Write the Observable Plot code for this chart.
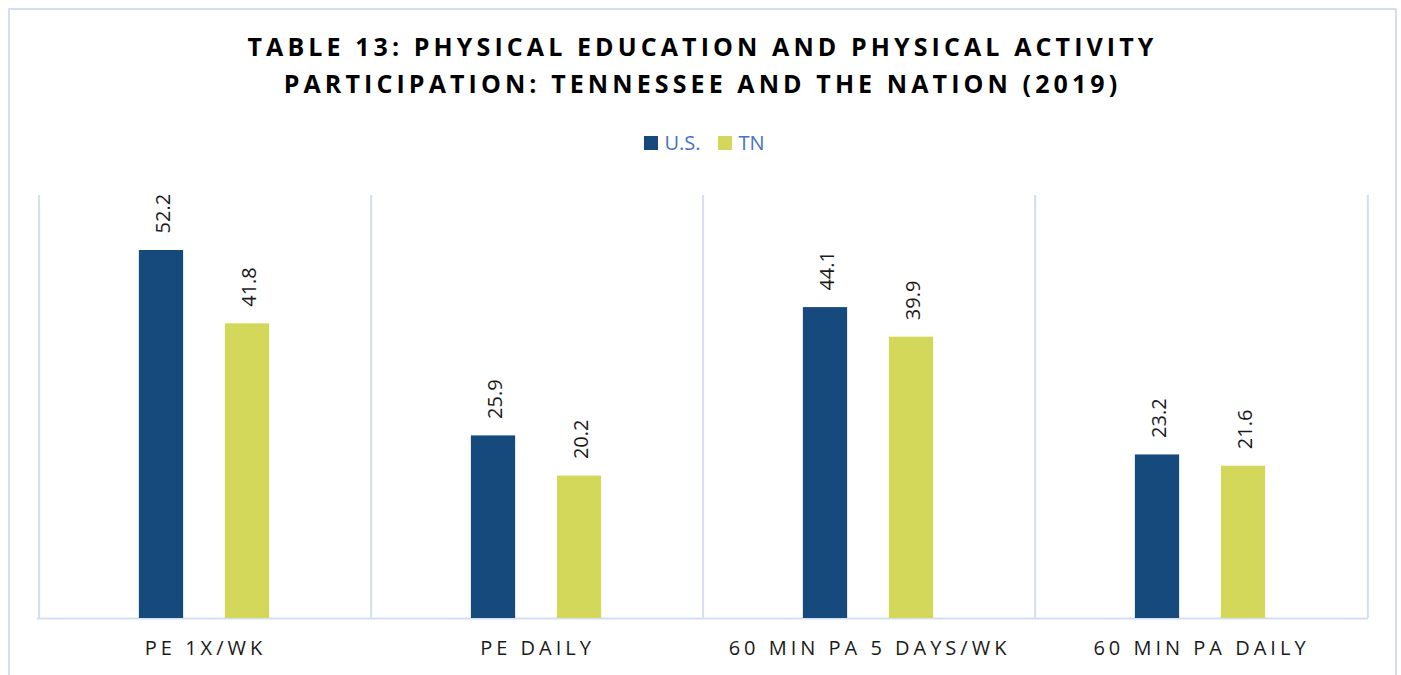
<!DOCTYPE html>
<html>
<head>
<meta charset="utf-8">
<script src="https://cdn.jsdelivr.net/npm/d3@7"></script>
<script src="https://cdn.jsdelivr.net/npm/@observablehq/plot@0.6"></script>
<style>
  html, body { margin: 0; padding: 0; background: #fff; }
  #wrap { position: relative; width: 1401px; height: 675px; overflow: hidden; font-family: "Open Sans", sans-serif; }
  #frame { position: absolute; left: 8px; top: 8px; width: 1385px; height: 720px; border: 2px solid #d3deef; box-sizing: content-box; }
  #title { position: absolute; left: 8px; width: 1389px; top: 28px; text-align: center; font-weight: 700; font-size: 25px; line-height: 37px; letter-spacing: 4.1px; color: #000; }
  #legend { position: absolute; left: 10px; width: 1389px; top: 133px; display: flex; justify-content: center; font-size: 20px; line-height: 20px; color: #4472c4; }
  #legend span.item { display: inline-flex; align-items: baseline; margin: 0 9px; }
  #legend span.sw { display: inline-block; width: 14px; height: 14px; margin-right: 6px; }
  #chart { position: absolute; left: 0; top: 180px; }
  #chart g[aria-label="x-axis tick label"] text, #chart g[aria-label="x-axis"] text { letter-spacing: 4px; }
</style>
</head>
<body>
<div id="wrap">
  <div id="frame"></div>
  <div id="title">TABLE 13: PHYSICAL EDUCATION AND PHYSICAL ACTIVITY<br>PARTICIPATION: TENNESSEE AND THE NATION (2019)</div>
  <div id="legend"></div>
  <div id="chart"></div>
</div>
<script>
const categories = ["PE 1X/WK", "PE DAILY", "60 MIN PA 5 DAYS/WK", "60 MIN PA DAILY"];
const seriesNames = ["U.S.", "TN"];
const usValues = [52.2, 25.9, 44.1, 23.2];
const tnValues = [41.8, 20.2, 39.9, 21.6];
const colors = ["#174a7c", "#d3d85a"];

const us = categories.map((c, i) => ({category: c, value: usValues[i]}));
const tn = categories.map((c, i) => ({category: c, value: tnValues[i]}));

// legend
const legend = document.getElementById("legend");
seriesNames.forEach((s, i) => {
  const item = document.createElement("span");
  item.className = "item";
  const sw = document.createElement("span");
  sw.className = "sw";
  sw.style.background = colors[i];
  item.appendChild(sw);
  item.appendChild(document.createTextNode(s));
  legend.appendChild(item);
});

const W = 1401, H = 495, mL = 37, mR = 33, mT = 15, mB = 57;
const bw = (W - mL - mR) / categories.length;
const barW = 45, off = 43;
const gridColor = "#d3deef";

const chart = Plot.plot({
  width: W, height: H,
  marginTop: mT, marginBottom: mB, marginLeft: mL, marginRight: mR,
  style: {fontFamily: "Open Sans, sans-serif", fontSize: "20px", color: "#1a1a1a", background: "transparent"},
  x: {domain: categories, padding: 0, label: null, tickSize: 0, tickPadding: 22},
  y: {domain: [0, 60], axis: null},
  marks: [
    Plot.ruleX(categories, {x: d => d, dx: -bw / 2, stroke: gridColor, strokeWidth: 2}),
    Plot.ruleX([categories[categories.length - 1]], {x: d => d, dx: bw / 2, stroke: gridColor, strokeWidth: 2}),
    Plot.ruleY([0], {stroke: gridColor, strokeWidth: 2}),
    Plot.barY(us, {x: "category", y: "value", fill: colors[0],
      insetLeft: bw / 2 - off - barW / 2 - 1, insetRight: bw / 2 + off - barW / 2 + 1}),
    Plot.barY(tn, {x: "category", y: "value", fill: colors[1],
      insetLeft: bw / 2 + off - barW / 2 - 1, insetRight: bw / 2 - off - barW / 2 + 1}),
    Plot.text(us, {x: "category", y: "value", text: d => d.value.toFixed(1), rotate: -90,
      textAnchor: "start", lineAnchor: "middle", dx: -off + 1, dy: -17, fontSize: 20, fill: "#1a1a1a"}),
    Plot.text(tn, {x: "category", y: "value", text: d => d.value.toFixed(1), rotate: -90,
      textAnchor: "start", lineAnchor: "middle", dx: off + 1, dy: -17, fontSize: 20, fill: "#1a1a1a"})
  ]
});
document.getElementById("chart").appendChild(chart);
</script>
</body>
</html>
